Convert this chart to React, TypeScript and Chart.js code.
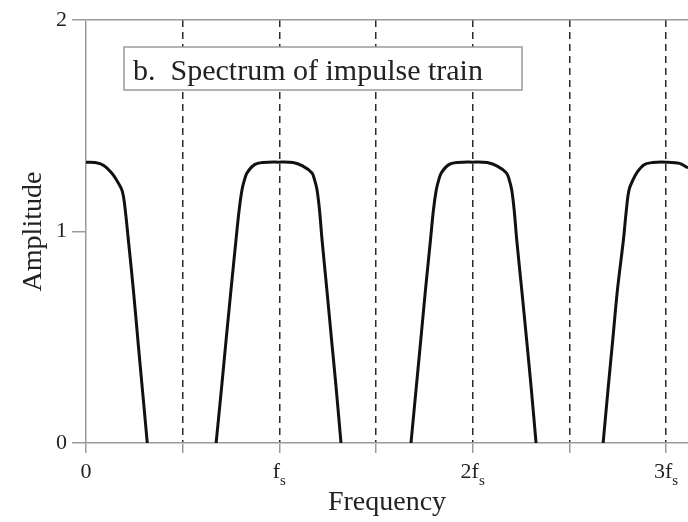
import React, { useEffect, useRef } from 'react';
import { Chart, registerables } from 'chart.js';

Chart.register(...registerables);

const FONT = '"Liberation Serif", "Times New Roman", serif';

// Frequency in units of fs, amplitude
const lobe0Freq = [0, 0.047, 0.09, 0.133, 0.16, 0.185, 0.198, 0.219, 0.245, 0.27, 0.295, 0.317];
const lobe0Amp = [1.328, 1.326, 1.313, 1.277, 1.24, 1.198, 1.14, 0.961, 0.724, 0.47, 0.22, 0];

const lobe1Freq = [0.673, 0.7, 0.725, 0.75, 0.776, 0.792, 0.807, 0.82, 0.833, 0.87, 0.915, 0.995, 1.071, 1.12, 1.169, 1.182, 1.195, 1.208, 1.221, 1.246, 1.27, 1.295, 1.319];
const lobe1Amp = [0, 0.25, 0.49, 0.724, 0.961, 1.1, 1.197, 1.245, 1.277, 1.315, 1.326, 1.328, 1.326, 1.31, 1.277, 1.245, 1.197, 1.1, 0.961, 0.724, 0.49, 0.25, 0];

const lobe2Freq = [1.681, 1.707, 1.732, 1.756, 1.782, 1.797, 1.812, 1.825, 1.838, 1.875, 1.92, 1.997, 2.075, 2.125, 2.175, 2.189, 2.202, 2.215, 2.228, 2.254, 2.279, 2.304, 2.328];
const lobe2Amp = [0, 0.25, 0.49, 0.724, 0.961, 1.1, 1.197, 1.245, 1.277, 1.315, 1.326, 1.328, 1.326, 1.31, 1.277, 1.245, 1.197, 1.1, 0.961, 0.724, 0.49, 0.25, 0];

const lobe3Freq = [2.675, 2.7, 2.725, 2.749, 2.78, 2.795, 2.809, 2.83, 2.849, 2.885, 2.93, 3.0, 3.07, 3.114];
const lobe3Amp = [0, 0.25, 0.49, 0.724, 0.961, 1.1, 1.197, 1.245, 1.277, 1.315, 1.326, 1.328, 1.322, 1.3];

const X_MIN = 0;
const X_MAX = 3.114;
const X_STEP = 0.5;
const Y_MIN = 0;
const Y_MAX = 2;
const Y_STEP = 1;

const xTickValues = [0, 1, 2, 3];
const xTickMain = ['0', 'f', '2f', '3f'];
const xTickSub = ['', 's', 's', 's'];

const TITLE = 'b.  Spectrum of impulse train';
const X_TITLE = 'Frequency';
const Y_TITLE = 'Amplitude';

const lobes = [
  [lobe0Freq, lobe0Amp],
  [lobe1Freq, lobe1Amp],
  [lobe2Freq, lobe2Amp],
  [lobe3Freq, lobe3Amp],
];

const overlayPlugin = {
  id: 'overlay',
  afterDraw(chart: any) {
    const { ctx, chartArea } = chart;
    const xs = chart.scales.x;
    ctx.save();
    // x tick labels with subscript
    ctx.fillStyle = '#222';
    ctx.textBaseline = 'alphabetic';
    ctx.textAlign = 'left';
    xTickValues.forEach((v, i) => {
      const px = xs.getPixelForValue(v);
      ctx.font = `22px ${FONT}`;
      const mw = ctx.measureText(xTickMain[i]).width;
      ctx.font = `15px ${FONT}`;
      const sw = xTickSub[i] ? ctx.measureText(xTickSub[i]).width : 0;
      const start = px - (mw + sw) / 2;
      ctx.font = `22px ${FONT}`;
      ctx.fillText(xTickMain[i], start, xs.top + 35);
      if (xTickSub[i]) {
        ctx.font = `15px ${FONT}`;
        ctx.fillText(xTickSub[i], start + mw, xs.top + 42);
      }
    });
    // title box
    const bx = chartArea.left + 38;
    const by = chartArea.top + 27;
    const bw = 398;
    const bh = 43;
    ctx.fillStyle = '#fff';
    ctx.fillRect(bx, by, bw, bh);
    ctx.strokeStyle = '#9a9a9a';
    ctx.lineWidth = 1.5;
    ctx.strokeRect(bx, by, bw, bh);
    ctx.fillStyle = '#222';
    ctx.font = `30px ${FONT}`;
    ctx.fillText(TITLE, bx + 9, by + 32.5);
    ctx.restore();
  },
};

export default function App() {
  const ref = useRef<HTMLCanvasElement>(null);

  useEffect(() => {
    const canvas = ref.current;
    if (!canvas) return;
    const chart = new Chart(canvas, {
      type: 'line',
      data: {
        datasets: lobes.map(([f, a]) => ({
          data: f.map((x, i) => ({ x, y: a[i] })),
          borderColor: '#111',
          borderWidth: 3,
          pointRadius: 0,
          fill: false,
          tension: 0.35,
        })),
      },
      options: {
        responsive: false,
        animation: false,
        layout: { padding: { top: 20, right: 0, bottom: 0, left: 0 } },
        plugins: {
          legend: { display: false },
          tooltip: { enabled: false },
        },
        scales: {
          x: {
            type: 'linear',
            min: X_MIN,
            max: X_MAX,
            afterFit: (s: any) => {
              s.height = 79;
            },
            ticks: {
              stepSize: X_STEP,
              includeBounds: false,
              autoSkip: false,
              maxRotation: 0,
              callback: () => '',
              padding: 0,
            },
            grid: {
              color: (c: any) => (c.tick && c.tick.value > 0 ? '#2a2a2a' : 'rgba(0,0,0,0)'),
              lineWidth: 1.5,
              tickLength: 10,
              tickColor: '#9a9a9a',
              tickWidth: 1.5,
              tickBorderDash: [],
            },
            border: { display: true, color: '#9a9a9a', width: 1.5, dash: [7, 5] },
            title: {
              display: true,
              text: X_TITLE,
              color: '#222',
              font: { family: FONT, size: 28 },
              padding: { top: 0, bottom: 3 },
            },
          },
          y: {
            type: 'linear',
            min: Y_MIN,
            max: Y_MAX,
            afterFit: (s: any) => {
              s.width = 86;
            },
            ticks: {
              stepSize: Y_STEP,
              color: '#222',
              font: { family: FONT, size: 22 },
              padding: 5,
            },
            grid: {
              color: (c: any) => (c.tick && c.tick.value === Y_MAX ? '#9a9a9a' : 'rgba(0,0,0,0)'),
              lineWidth: 1.5,
              tickLength: 14,
              tickColor: '#9a9a9a',
              tickWidth: 1.5,
            },
            border: { display: true, color: '#9a9a9a', width: 1.5 },
            title: {
              display: true,
              text: Y_TITLE,
              color: '#222',
              font: { family: FONT, size: 28 },
              padding: { top: 17, bottom: 0 },
            },
          },
        },
      },
      plugins: [overlayPlugin],
    } as any);
    return () => chart.destroy();
  }, []);

  return (
    <div style={{ position: 'absolute', left: 0, top: 0, width: 688, height: 522, background: '#fff' }}>
      <canvas ref={ref} width={688} height={522} style={{ display: 'block', width: 688, height: 522 }} />
    </div>
  );
}
